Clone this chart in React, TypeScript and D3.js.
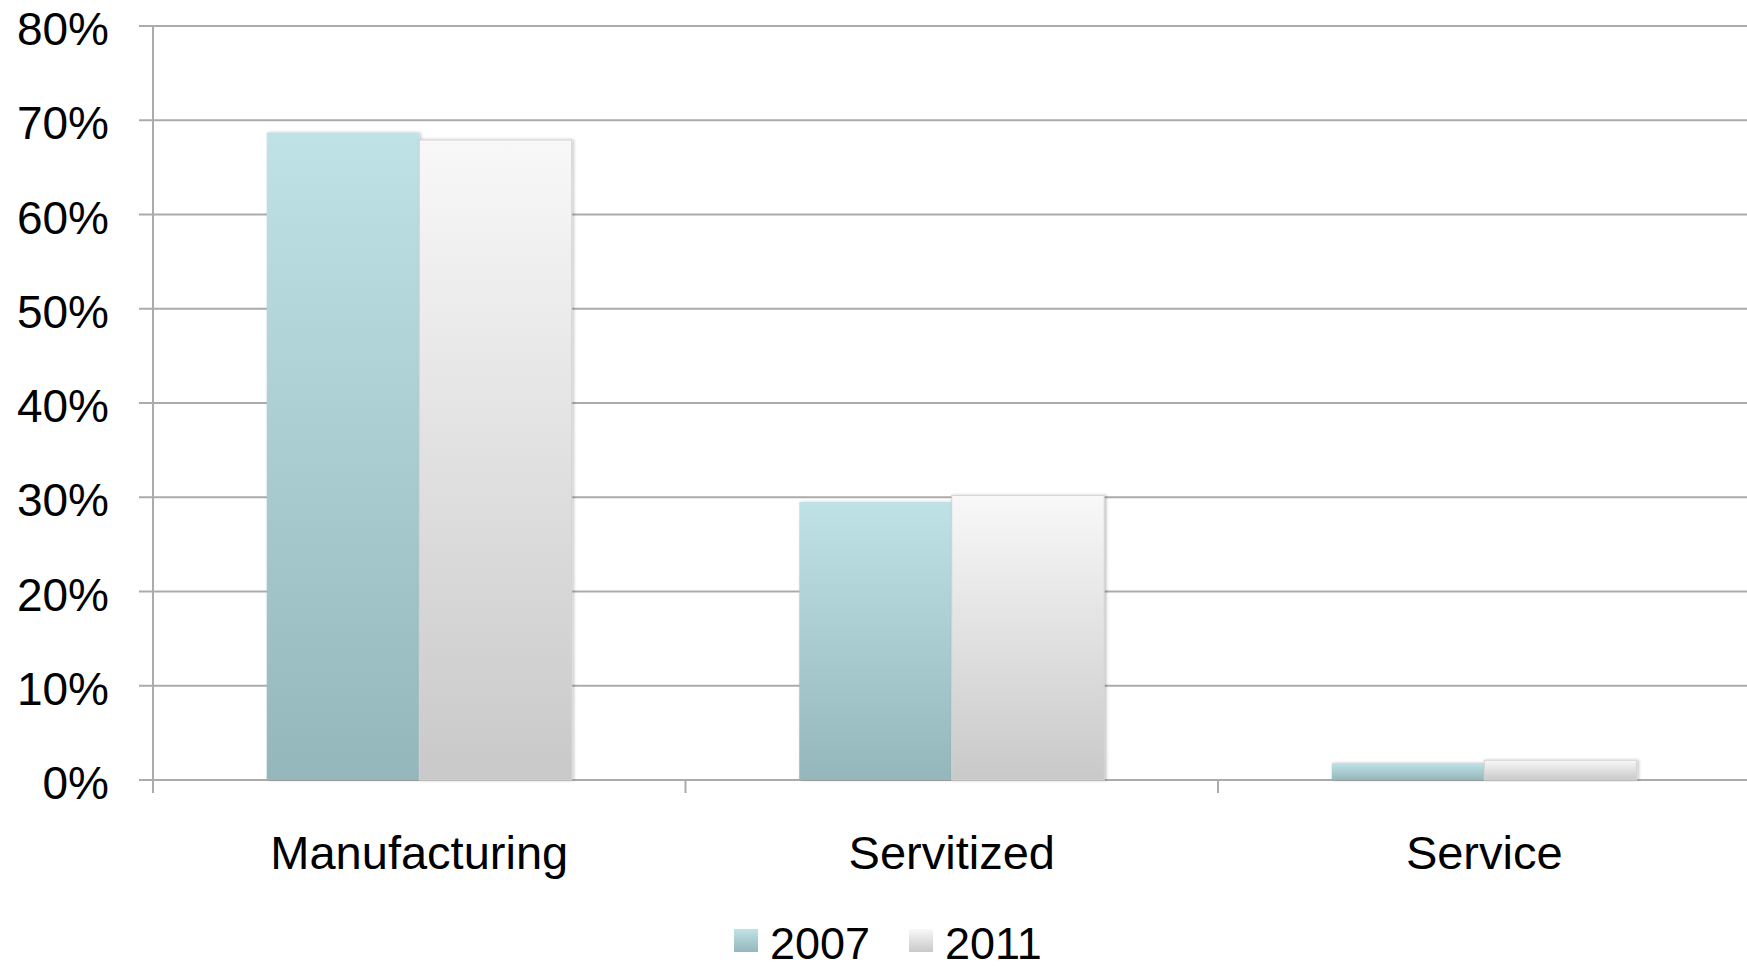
import React, { useEffect, useRef } from "react";
import * as d3 from "d3";

const categories = ["Manufacturing", "Servitized", "Service"];
const seriesNames = ["2007", "2011"];
const values2007 = [68.7, 29.5, 1.8];
const values2011 = [67.9, 30.2, 2.1];
const yTicks = [0, 10, 20, 30, 40, 50, 60, 70, 80];

export default function App() {
  const ref = useRef<SVGSVGElement>(null);

  useEffect(() => {
    const width = 1747;
    const height = 970;
    const left = 153;
    const barWidth = 152.5;

    const svg = d3.select(ref.current);
    svg.selectAll("*").remove();
    svg.attr("width", width).attr("height", height);

    // gradients for the bars and legend
    const defs = svg.append("defs");
    const grads = [
      { id: "g2007", top: "#bfe2e7", bottom: "#93b7ba" },
      { id: "g2011", top: "#f8f8f8", bottom: "#c9c9c9" },
    ];
    grads.forEach((g) => {
      const lg = defs
        .append("linearGradient")
        .attr("id", g.id)
        .attr("x1", 0)
        .attr("y1", 0)
        .attr("x2", 0)
        .attr("y2", 1);
      lg.append("stop").attr("offset", "0%").attr("stop-color", g.top);
      lg.append("stop").attr("offset", "100%").attr("stop-color", g.bottom);
    });
    defs
      .append("filter")
      .attr("id", "shadow")
      .attr("x", "-10%")
      .attr("y", "-10%")
      .attr("width", "130%")
      .attr("height", "120%")
      .append("feDropShadow")
      .attr("dx", 1.5)
      .attr("dy", 0)
      .attr("stdDeviation", 1.5)
      .attr("flood-color", "#000")
      .attr("flood-opacity", 0.25);

    const x0 = d3
      .scaleBand()
      .domain(categories)
      .range([left, left + 3 * 532.5])
      .padding(0);

    const x1 = d3
      .scaleBand()
      .domain(seriesNames)
      .range([x0.bandwidth() / 2 - barWidth, x0.bandwidth() / 2 + barWidth]);

    const yScale = d3.scaleLinear().domain([0, 80]).range([780, 26]);

    // gridlines
    svg
      .append("g")
      .selectAll("line")
      .data(yTicks)
      .join("line")
      .attr("x1", left - 14)
      .attr("x2", width)
      .attr("y1", (d) => yScale(d))
      .attr("y2", (d) => yScale(d))
      .attr("stroke", "#ababab")
      .attr("stroke-width", 2);

    // y axis line
    svg
      .append("line")
      .attr("x1", left)
      .attr("x2", left)
      .attr("y1", yScale(80))
      .attr("y2", yScale(0) + 13)
      .attr("stroke", "#ababab")
      .attr("stroke-width", 2);

    // x ticks
    svg
      .append("g")
      .selectAll("line")
      .data(categories)
      .join("line")
      .attr("x1", (d) => x0(d)!)
      .attr("x2", (d) => x0(d)!)
      .attr("y1", yScale(0))
      .attr("y2", yScale(0) + 13)
      .attr("stroke", "#ababab")
      .attr("stroke-width", 2);

    // y labels
    svg
      .append("g")
      .selectAll("text")
      .data(yTicks)
      .join("text")
      .attr("x", 109)
      .attr("y", (d) => yScale(d) + 19)
      .attr("text-anchor", "end")
      .attr("font-family", "Liberation Sans, Arial, sans-serif")
      .attr("font-size", 46)
      .attr("fill", "#000")
      .text((d) => `${d}%`);

    // bars
    const series = [
      { name: "2007", values: values2007, grad: "g2007", stroke: "none" },
      { name: "2011", values: values2011, grad: "g2011", stroke: "#d2d2d2" },
    ];
    series.forEach((s) => {
      svg
        .append("g")
        .selectAll("rect")
        .data(categories)
        .join("rect")
        .attr("x", (d) => x0(d)! + x1(s.name)!)
        .attr("y", (d, i) => yScale(s.values[i]))
        .attr("width", x1.bandwidth())
        .attr("height", (d, i) => yScale(0) - yScale(s.values[i]))
        .attr("fill", `url(#${s.grad})`)
        .attr("stroke", s.stroke)
        .attr("stroke-width", 1)
        .attr("filter", "url(#shadow)");
    });

    // category labels
    svg
      .append("g")
      .selectAll("text")
      .data(categories)
      .join("text")
      .attr("x", (d) => x0(d)! + x0.bandwidth() / 2)
      .attr("y", 869)
      .attr("text-anchor", "middle")
      .attr("font-family", "Liberation Sans, Arial, sans-serif")
      .attr("font-size", 47)
      .attr("fill", "#000")
      .text((d) => d);

    // legend (kept a few px above the bottom edge)
    const legendX = [734, 909];
    const legend = svg
      .append("g")
      .selectAll("g")
      .data(series)
      .join("g")
      .attr("transform", (d, i) => `translate(${legendX[i]},929)`);
    legend
      .append("rect")
      .attr("width", 24)
      .attr("height", 23)
      .attr("fill", (d) => `url(#${d.grad})`);
    legend
      .append("text")
      .attr("x", 36)
      .attr("y", 30)
      .attr("font-family", "Liberation Sans, Arial, sans-serif")
      .attr("font-size", 45)
      .attr("fill", "#000")
      .text((d) => d.name);
  }, []);

  return (
    <svg
      ref={ref}
      style={{ position: "absolute", left: 0, top: 0, display: "block" }}
    />
  );
}
